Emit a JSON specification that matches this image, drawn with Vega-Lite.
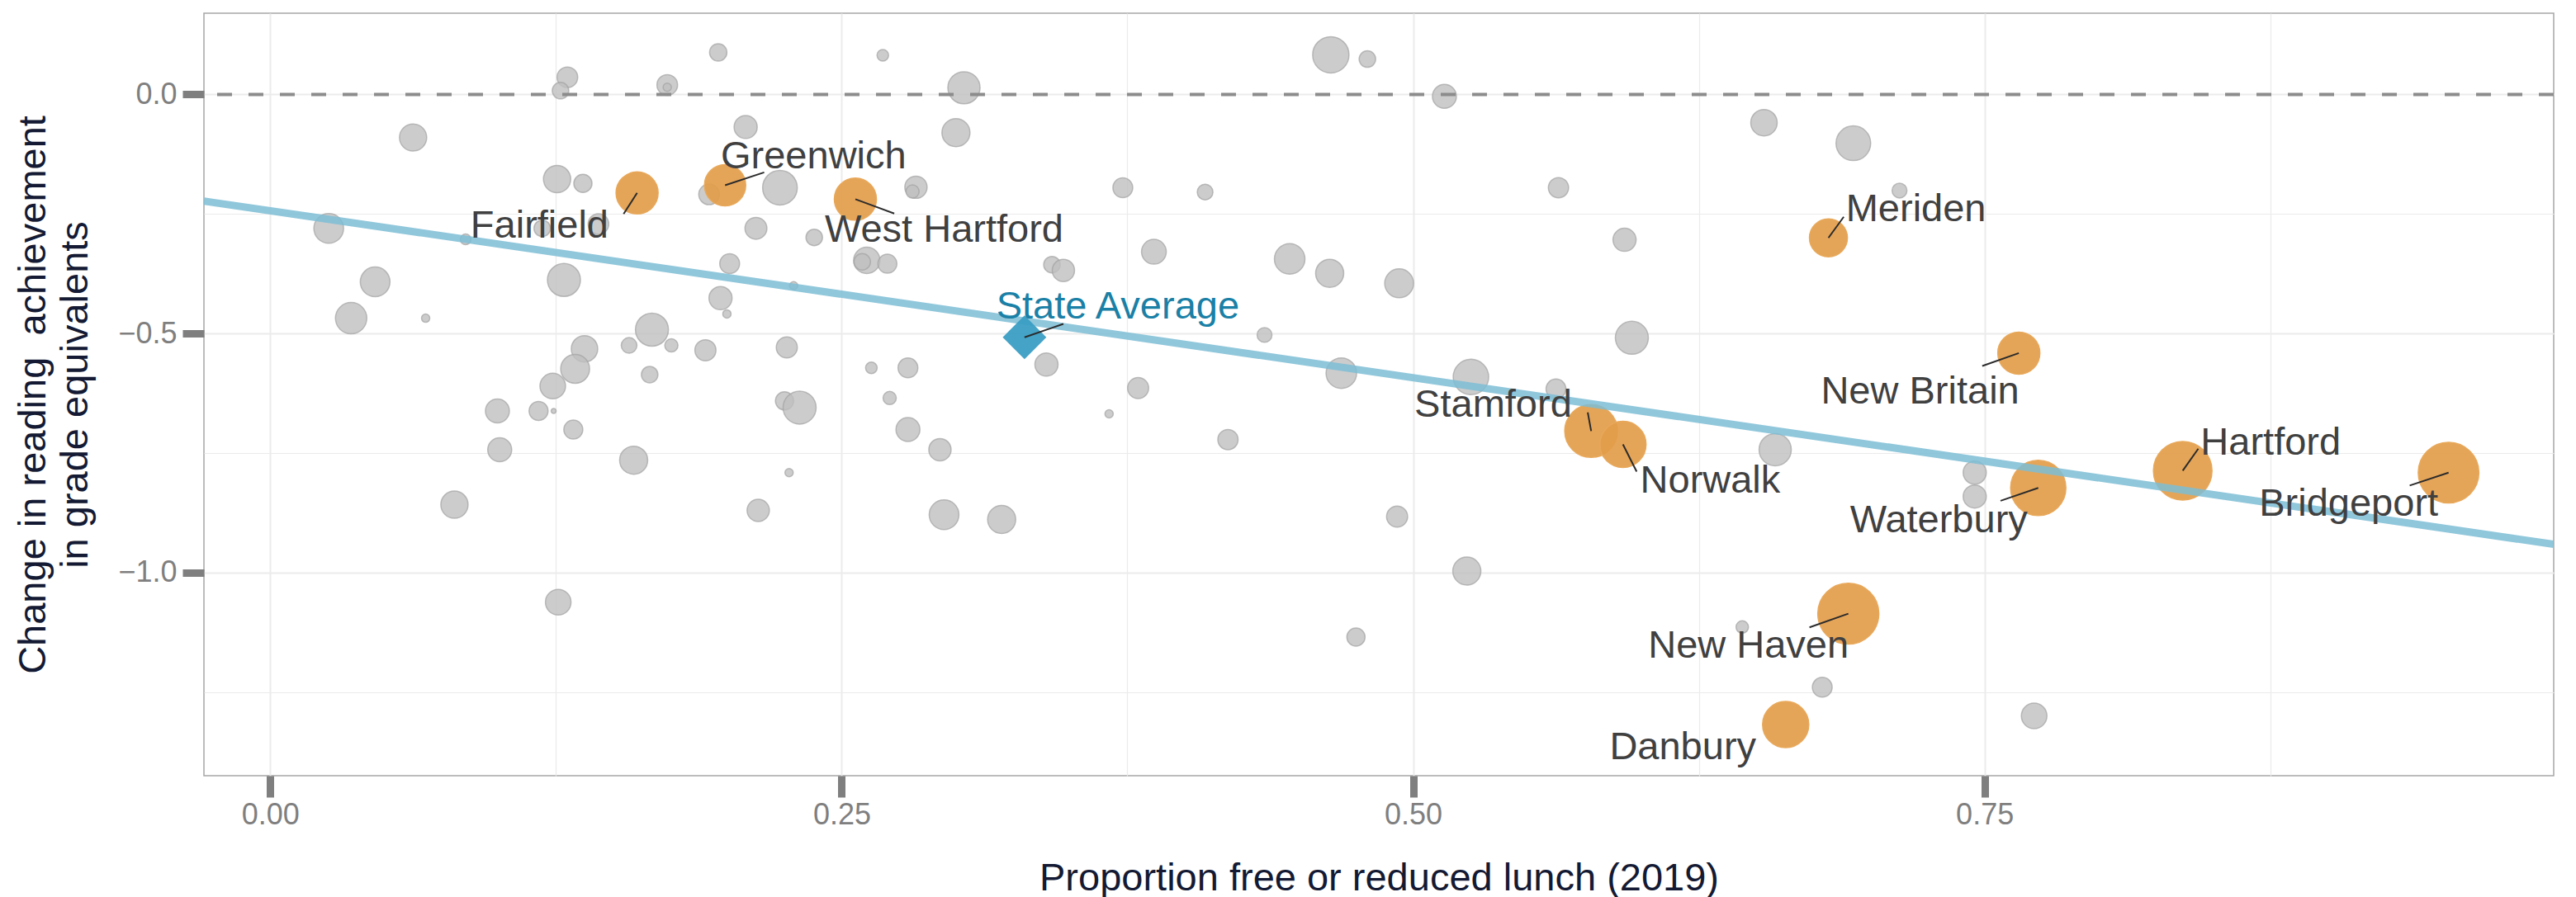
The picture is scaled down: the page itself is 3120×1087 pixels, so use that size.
{
  "$schema": "https://vega.github.io/schema/vega-lite/v6.json",
  "width": 2846,
  "height": 924,
  "autosize": {"type": "none"},
  "padding": {"left": 247, "top": 16, "right": 27, "bottom": 147},
  "background": "white",
  "config": {
    "view": {"stroke": "#a6a6a6", "strokeWidth": 1.5},
    "font": "Liberation Sans"
  },
  "datasets": {
    "pts": [
      {"g": "o", "frl": 0.130, "chg": 0.036, "n": 2313},
      {"g": "o", "frl": 0.127, "chg": 0.008, "n": 1480},
      {"g": "o", "frl": 0.1737, "chg": 0.020, "n": 2313},
      {"g": "o", "frl": 0.1737, "chg": 0.015, "n": 370},
      {"g": "o", "frl": 0.0625, "chg": -0.090, "n": 4029},
      {"g": "o", "frl": 0.1255, "chg": -0.177, "n": 4029},
      {"g": "o", "frl": 0.1368, "chg": -0.186, "n": 1791},
      {"g": "o", "frl": 0.0256, "chg": -0.280, "n": 4795},
      {"g": "o", "frl": 0.0855, "chg": -0.303, "n": 625},
      {"g": "o", "frl": 0.1436, "chg": -0.271, "n": 2313},
      {"g": "o", "frl": 0.119, "chg": -0.280, "n": 1480},
      {"g": "o", "frl": 0.0459, "chg": -0.392, "n": 4795},
      {"g": "o", "frl": 0.1285, "chg": -0.388, "n": 5920},
      {"g": "o", "frl": 0.0354, "chg": -0.468, "n": 5343},
      {"g": "o", "frl": 0.068, "chg": -0.468, "n": 370},
      {"g": "o", "frl": 0.167, "chg": -0.492, "n": 5920},
      {"g": "o", "frl": 0.1375, "chg": -0.532, "n": 3789},
      {"g": "o", "frl": 0.157, "chg": -0.525, "n": 1336},
      {"g": "o", "frl": 0.1334, "chg": -0.574, "n": 4533},
      {"g": "o", "frl": 0.166, "chg": -0.586, "n": 1480},
      {"g": "o", "frl": 0.1236, "chg": -0.610, "n": 3556},
      {"g": "o", "frl": 0.0994, "chg": -0.662, "n": 3112},
      {"g": "o", "frl": 0.1174, "chg": -0.662, "n": 1957},
      {"g": "o", "frl": 0.124, "chg": -0.662, "n": 133},
      {"g": "o", "frl": 0.1326, "chg": -0.701, "n": 1957},
      {"g": "o", "frl": 0.1004, "chg": -0.743, "n": 3112},
      {"g": "o", "frl": 0.159, "chg": -0.765, "n": 4277},
      {"g": "o", "frl": 0.0806, "chg": -0.858, "n": 4029},
      {"g": "o", "frl": 0.126, "chg": -1.062, "n": 3556},
      {"g": "o", "frl": 0.196, "chg": 0.088, "n": 1632},
      {"g": "o", "frl": 0.268, "chg": 0.082, "n": 725},
      {"g": "o", "frl": 0.3035, "chg": 0.014, "n": 5628},
      {"g": "o", "frl": 0.208, "chg": -0.068, "n": 2901},
      {"g": "o", "frl": 0.300, "chg": -0.080, "n": 4277},
      {"g": "o", "frl": 0.192, "chg": -0.209, "n": 2313},
      {"g": "o", "frl": 0.223, "chg": -0.195, "n": 6527},
      {"g": "o", "frl": 0.2825, "chg": -0.194, "n": 2697},
      {"g": "o", "frl": 0.281, "chg": -0.203, "n": 947},
      {"g": "o", "frl": 0.373, "chg": -0.195, "n": 2131},
      {"g": "o", "frl": 0.409, "chg": -0.204, "n": 1336},
      {"g": "o", "frl": 0.2125, "chg": -0.280, "n": 2598},
      {"g": "o", "frl": 0.238, "chg": -0.299, "n": 1480},
      {"g": "o", "frl": 0.261, "chg": -0.347, "n": 3789},
      {"g": "o", "frl": 0.259, "chg": -0.350, "n": 1480},
      {"g": "o", "frl": 0.270, "chg": -0.354, "n": 1957},
      {"g": "o", "frl": 0.201, "chg": -0.354, "n": 2131},
      {"g": "o", "frl": 0.3866, "chg": -0.329, "n": 3330},
      {"g": "o", "frl": 0.446, "chg": -0.344, "n": 5065},
      {"g": "o", "frl": 0.342, "chg": -0.356, "n": 1480},
      {"g": "o", "frl": 0.347, "chg": -0.368, "n": 2697},
      {"g": "o", "frl": 0.4635, "chg": -0.374, "n": 4277},
      {"g": "o", "frl": 0.229, "chg": -0.400, "n": 370},
      {"g": "o", "frl": 0.197, "chg": -0.426, "n": 2901},
      {"g": "o", "frl": 0.1998, "chg": -0.459, "n": 370},
      {"g": "o", "frl": 0.435, "chg": -0.503, "n": 1199},
      {"g": "o", "frl": 0.1755, "chg": -0.525, "n": 947},
      {"g": "o", "frl": 0.1904, "chg": -0.535, "n": 2406},
      {"g": "o", "frl": 0.226, "chg": -0.529, "n": 2406},
      {"g": "o", "frl": 0.263, "chg": -0.572, "n": 725},
      {"g": "o", "frl": 0.279, "chg": -0.572, "n": 2131},
      {"g": "o", "frl": 0.3396, "chg": -0.565, "n": 2901},
      {"g": "o", "frl": 0.3797, "chg": -0.614, "n": 2406},
      {"g": "o", "frl": 0.271, "chg": -0.635, "n": 947},
      {"g": "o", "frl": 0.225, "chg": -0.641, "n": 1791},
      {"g": "o", "frl": 0.2316, "chg": -0.655, "n": 5920},
      {"g": "o", "frl": 0.367, "chg": -0.668, "n": 370},
      {"g": "o", "frl": 0.279, "chg": -0.701, "n": 3112},
      {"g": "o", "frl": 0.293, "chg": -0.743, "n": 2697},
      {"g": "o", "frl": 0.419, "chg": -0.722, "n": 2221},
      {"g": "o", "frl": 0.227, "chg": -0.791, "n": 370},
      {"g": "o", "frl": 0.2135, "chg": -0.870, "n": 2697},
      {"g": "o", "frl": 0.2948, "chg": -0.879, "n": 4795},
      {"g": "o", "frl": 0.320, "chg": -0.889, "n": 4277},
      {"g": "o", "frl": 0.464, "chg": 0.083, "n": 7163},
      {"g": "o", "frl": 0.480, "chg": 0.074, "n": 1480},
      {"g": "o", "frl": 0.5137, "chg": -0.004, "n": 3112},
      {"g": "o", "frl": 0.6535, "chg": -0.059, "n": 3789},
      {"g": "o", "frl": 0.6926, "chg": -0.102, "n": 6527},
      {"g": "o", "frl": 0.5636, "chg": -0.195, "n": 2221},
      {"g": "o", "frl": 0.7128, "chg": -0.201, "n": 1199},
      {"g": "o", "frl": 0.5925, "chg": -0.304, "n": 2901},
      {"g": "o", "frl": 0.4939, "chg": -0.395, "n": 4533},
      {"g": "o", "frl": 0.5957, "chg": -0.509, "n": 5920},
      {"g": "o", "frl": 0.4686, "chg": -0.583, "n": 5065},
      {"g": "o", "frl": 0.5253, "chg": -0.591, "n": 6841},
      {"g": "o", "frl": 0.5625, "chg": -0.616, "n": 2131},
      {"g": "o", "frl": 0.6584, "chg": -0.743, "n": 5628},
      {"g": "o", "frl": 0.493, "chg": -0.883, "n": 2406},
      {"g": "o", "frl": 0.5235, "chg": -0.997, "n": 4277},
      {"g": "o", "frl": 0.475, "chg": -1.135, "n": 1791},
      {"g": "o", "frl": 0.644, "chg": -1.114, "n": 833},
      {"g": "o", "frl": 0.679, "chg": -1.240, "n": 2131},
      {"g": "o", "frl": 0.7457, "chg": -0.791, "n": 2901},
      {"g": "o", "frl": 0.7457, "chg": -0.841, "n": 2901},
      {"g": "o", "frl": 0.7717, "chg": -1.300, "n": 3556},
      {"g": "h", "d": "Fairfield", "frl": 0.1605, "chg": -0.206, "n": 9624, "lx": 0.1178, "ly": -0.299, "sx": 0.1546, "sy": -0.250},
      {"g": "h", "d": "Greenwich", "frl": 0.199, "chg": -0.190, "n": 9250, "lx": 0.2377, "ly": -0.1548, "sx": 0.2161, "sy": -0.163},
      {"g": "h", "d": "West Hartford", "frl": 0.256, "chg": -0.219, "n": 9624, "lx": 0.2948, "ly": -0.309, "sx": 0.273, "sy": -0.249},
      {"g": "h", "d": "Meriden", "frl": 0.6817, "chg": -0.300, "n": 7829, "lx": 0.720, "ly": -0.265, "sx": 0.6884, "sy": -0.256},
      {"g": "h", "d": "New Britain", "frl": 0.765, "chg": -0.541, "n": 9624, "lx": 0.7218, "ly": -0.647, "sx": 0.749, "sy": -0.568},
      {"g": "h", "d": "Stamford", "frl": 0.5779, "chg": -0.704, "n": 15155, "lx": 0.535, "ly": -0.674, "sx": 0.5764, "sy": -0.665},
      {"g": "h", "d": "Norwalk", "frl": 0.5918, "chg": -0.732, "n": 11603, "lx": 0.630, "ly": -0.8335, "sx": 0.5978, "sy": -0.789},
      {"g": "h", "d": "Waterbury", "frl": 0.7735, "chg": -0.823, "n": 16609, "lx": 0.730, "ly": -0.915, "sx": 0.757, "sy": -0.850},
      {"g": "h", "d": "Hartford", "frl": 0.8367, "chg": -0.787, "n": 18652, "lx": 0.8752, "ly": -0.753, "sx": 0.8435, "sy": -0.741},
      {"g": "h", "d": "Bridgeport", "frl": 0.953, "chg": -0.791, "n": 19989, "lx": 0.9093, "ly": -0.8817, "sx": 0.936, "sy": -0.818},
      {"g": "h", "d": "New Haven", "frl": 0.6904, "chg": -1.086, "n": 20261, "lx": 0.6467, "ly": -1.1787, "sx": 0.6734, "sy": -1.1148},
      {"g": "h", "d": "Danbury", "frl": 0.663, "chg": -1.318, "n": 11603, "lx": 0.618, "ly": -1.3897},
      {"g": "s", "d": "State Average", "frl": 0.330, "chg": -0.508, "lx": 0.3708, "ly": -0.468, "sx": 0.347, "sy": -0.480}
    ],
    "fit": [
      {"frl": -0.029, "chg": -0.223},
      {"frl": 0.999, "chg": -0.941}
    ]
  },
  "layer": [
    {
      "data": {"name": "pts"},
      "transform": [{"filter": "datum.g == 'o'"}],
      "mark": {"type": "circle", "color": "#bfbfbf", "fillOpacity": 0.8, "stroke": "#a3a3a3", "strokeWidth": 1.5, "strokeOpacity": 0.7},
      "encoding": {
        "x": {
          "field": "frl", "type": "quantitative",
          "scale": {"domain": [-0.029, 0.999], "nice": false, "zero": false},
          "axis": {
            "title": "Proportion free or reduced lunch (2019)",
            "values": [0, 0.125, 0.25, 0.375, 0.5, 0.625, 0.75, 0.875],
            "labelExpr": "datum.value % 0.25 == 0 ? format(datum.value, '.2f') : ''",
            "domain": false,
            "grid": true,
            "gridColor": "#ebebeb",
            "gridWidth": {"condition": {"test": "datum.value % 0.25 != 0", "value": 1.2}, "value": 2},
            "ticks": true,
            "tickColor": "#7f7f7f",
            "tickWidth": 9,
            "tickSize": 26,
            "tickOpacity": {"condition": {"test": "datum.value % 0.25 != 0", "value": 0}, "value": 1},
            "labelFont": "Liberation Sans",
            "labelFontSize": 36,
            "labelColor": "#7f7f7f",
            "labelPadding": 4,
            "labelFlush": false,
            "labelOverlap": false,
            "titleFont": "Liberation Sans",
            "titleFontSize": 47,
            "titleFontWeight": "normal",
            "titleColor": "#141a33",
            "titleBaseline": "alphabetic",
            "titleX": 1423,
            "titleY": 138
          }
        },
        "y": {
          "field": "chg", "type": "quantitative",
          "scale": {"domain": [-1.425, 0.17], "nice": false, "zero": false},
          "axis": {
            "title": ["Change in reading \u00a0achievement", "in grade equivalents"],
            "values": [0, -0.25, -0.5, -0.75, -1.0, -1.25],
            "labelExpr": "datum.value % 0.5 == 0 ? format(datum.value, '.1f') : ''",
            "domain": false,
            "grid": true,
            "gridColor": "#ebebeb",
            "gridWidth": {"condition": {"test": "datum.value % 0.5 != 0", "value": 1.2}, "value": 2},
            "ticks": true,
            "tickColor": "#7f7f7f",
            "tickWidth": 9,
            "tickSize": 26,
            "tickOpacity": {"condition": {"test": "datum.value % 0.5 != 0", "value": 0}, "value": 1},
            "labelFont": "Liberation Sans",
            "labelFontSize": 36,
            "labelColor": "#7f7f7f",
            "labelPadding": 7,
            "labelFlush": false,
            "labelOverlap": false,
            "titleFont": "Liberation Sans",
            "titleFontSize": 47,
            "titleFontWeight": "normal",
            "titleColor": "#141a33",
            "titleAngle": 270,
            "titleAlign": "center",
            "titleBaseline": "alphabetic",
            "titleLineHeight": 51,
            "titleX": -193,
            "titleY": 462
          }
        },
        "size": {"field": "n", "type": "quantitative", "scale": {"type": "linear", "domain": [0, 21000], "range": [0, 5670]}, "legend": null}
      }
    },
    {
      "data": {"values": [{"frl": 0.5, "chg": 0}]},
      "mark": {"type": "rule", "color": "#8c8c8c", "strokeWidth": 4, "strokeDash": [18, 20]},
      "encoding": {
        "y": {"field": "chg", "type": "quantitative"}
      }
    },
    {
      "data": {"name": "pts"},
      "transform": [{"filter": "datum.g == 'h'"}],
      "mark": {"type": "circle", "color": "#e39d4a", "fillOpacity": 0.92, "stroke": "#e8a85a", "strokeWidth": 1.5},
      "encoding": {
        "x": {"field": "frl", "type": "quantitative"},
        "y": {"field": "chg", "type": "quantitative"},
        "size": {"field": "n", "type": "quantitative", "scale": {"type": "linear", "domain": [0, 21000], "range": [0, 5670]}, "legend": null}
      }
    },
    {
      "data": {"name": "fit"},
      "mark": {"type": "line", "color": "#7dbdd5", "strokeWidth": 9, "opacity": 0.85, "clip": true},
      "encoding": {
        "x": {"field": "frl", "type": "quantitative"},
        "y": {"field": "chg", "type": "quantitative"}
      }
    },
    {
      "data": {"name": "pts"},
      "transform": [{"filter": "datum.g == 's'"}],
      "mark": {"type": "point", "shape": "diamond", "filled": true, "color": "#3a9ec4", "opacity": 0.95, "size": 2800},
      "encoding": {
        "x": {"field": "frl", "type": "quantitative"},
        "y": {"field": "chg", "type": "quantitative"}
      }
    },
    {
      "data": {"name": "pts"},
      "transform": [{"filter": "isValid(datum.sx)"}],
      "mark": {"type": "rule", "color": "#2b2b2b", "strokeWidth": 2},
      "encoding": {
        "x": {"field": "frl", "type": "quantitative"},
        "y": {"field": "chg", "type": "quantitative"},
        "x2": {"field": "sx"},
        "y2": {"field": "sy"}
      }
    },
    {
      "data": {"name": "pts"},
      "transform": [{"filter": "isValid(datum.lx)"}],
      "mark": {"type": "text", "font": "Liberation Sans", "fontSize": 47, "align": "center", "baseline": "alphabetic"},
      "encoding": {
        "x": {"field": "lx", "type": "quantitative"},
        "y": {"field": "ly", "type": "quantitative"},
        "text": {"field": "d"},
        "color": {"condition": {"test": "datum.g == 's'", "value": "#1a80a6"}, "value": "#404040"}
      }
    }
  ]
}
